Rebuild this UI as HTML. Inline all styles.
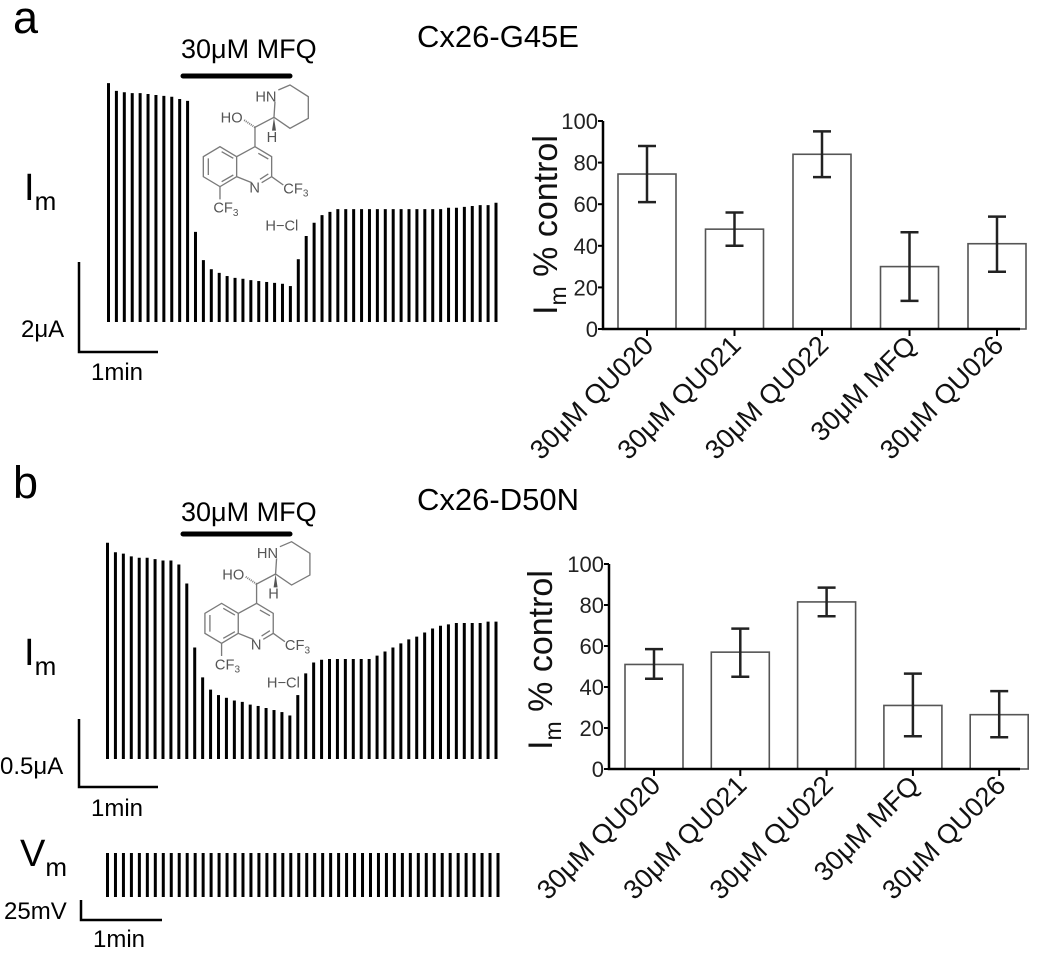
<!DOCTYPE html>
<html><head><meta charset="utf-8"><style>
html,body{margin:0;padding:0;background:#fff;}
svg{display:block;font-family:"Liberation Sans",sans-serif;}
</style></head><body>
<svg id="fig" width="1050" height="956" viewBox="0 0 1050 956" xmlns="http://www.w3.org/2000/svg">
<defs>
<g id="mol" stroke="#7a7a7a" stroke-width="4" fill="none">
 <path d="M625,150 L660,135 L715,170 L715,235 L660,265 L612,232 L615,185"/>
 <path d="M612,232 L555,262 L555,320"/>
 <path d="M555,262 L522,240" stroke-dasharray="3,3" stroke-width="6"/>
 <path d="M612,232 L606,272 L618,272 Z" fill="#555" stroke="none"/>
 <path d="M555,320 L605,350 L605,410 L575,428 M545,428 L500,410 L500,350 L555,320 M500,350 L450,320 L400,350 L400,410 L450,440 L500,410 M605,410 L640,435 M450,440 L450,478"/>
 <path d="M565,340 L595,357 M595,402 L570,418 M415,355 L415,405 M455,335 L490,355 M455,425 L490,405"/>
 <g fill="#555" stroke="none" font-size="44">
  <text x="556" y="184">HN</text>
  <text x="452" y="248">HO</text>
  <text x="590" y="306">H</text>
  <text x="538" y="458">N</text>
  <text x="640" y="460">CF<tspan font-size="30" dy="10">3</tspan></text>
  <text x="430" y="518">CF<tspan font-size="30" dy="10">3</tspan></text>
  <text x="586" y="572">H−Cl</text>
 </g>
</g>
</defs>
<g font-size="45" fill="#000">
 <text x="13" y="33">a</text>
 <text x="13" y="498">b</text>
</g>
<g font-size="31" fill="#000" text-anchor="middle">
 <text x="498" y="47">Cx26-G45E</text>
 <text x="498" y="510">Cx26-D50N</text>
</g>
<g font-size="27" fill="#000">
 <text x="181" y="58">30μM MFQ</text>
 <text x="181" y="521">30μM MFQ</text>
</g>
<line x1="183" y1="76" x2="290" y2="76" stroke="#000" stroke-width="5" stroke-linecap="round"/>
<line x1="183" y1="534" x2="290" y2="534" stroke="#000" stroke-width="5" stroke-linecap="round"/>
<use href="#mol" transform="translate(70,40) scale(0.3333)"/>
<use href="#mol" transform="translate(71.6,496.7) scale(0.3333)"/>
<g fill="#000">
 <text x="24" y="200" font-size="38">I<tspan font-size="26" dy="10">m</tspan></text>
 <text x="24" y="665" font-size="38">I<tspan font-size="26" dy="10">m</tspan></text>
 <text x="20" y="866" font-size="38">V<tspan font-size="26" dy="10">m</tspan></text>
 <text x="21" y="337" font-size="24">2μA</text>
 <text x="91" y="380" font-size="24">1min</text>
 <text x="0" y="774" font-size="24">0.5μA</text>
 <text x="91" y="816" font-size="24">1min</text>
 <text x="4" y="919" font-size="24">25mV</text>
 <text x="93" y="947" font-size="24">1min</text>
</g>
<g stroke="#000" stroke-width="2.5" fill="none">
 <path d="M79,262 L79,352 L158,352"/>
 <path d="M79,719 L79,787 L158,787"/>
 <path d="M81,900 L81,920 L162,920"/>
</g>
<g id="traces"></g>
<g id="charts"></g>
</svg>
<script>
// Trace amplitudes
const traceA = [5.25,5.08,5.05,5.03,5.03,5.01,4.99,4.97,4.95,4.90,4.86,1.98,1.36,1.16,1.08,1.01,0.97,0.95,0.92,0.90,0.88,0.86,0.84,0.79,1.38,1.89,2.18,2.35,2.42,2.48,2.48,2.48,2.48,2.48,2.48,2.48,2.48,2.48,2.48,2.48,2.48,2.48,2.48,2.51,2.51,2.53,2.55,2.57,2.57,2.62];
const traceB = [1.59,1.52,1.51,1.49,1.48,1.48,1.47,1.46,1.46,1.43,1.29,0.82,0.60,0.51,0.47,0.45,0.43,0.42,0.40,0.39,0.375,0.36,0.345,0.32,0.47,0.63,0.71,0.73,0.735,0.735,0.735,0.735,0.735,0.735,0.76,0.79,0.82,0.85,0.88,0.90,0.93,0.96,0.98,0.99,1.0,1.0,1.0,1.0,1.01,1.01];
const traceVm = Array(50).fill(55);
// Bar chart data
const categories = ["30μM QU020","30μM QU021","30μM QU022","30μM MFQ","30μM QU026"];
const meansA = [74.5,48,84,30,41];
const lowA = [61,40,73,13.5,27.5];
const highA = [88,56,95,46.5,54];
const meansB = [51,57,81.5,31,26.5];
const lowB = [44,45,74.5,16,15.5];
const highB = [58.5,68.5,88.5,46.5,38];
const yTicks = [0,20,40,60,80,100];

const NS = "http://www.w3.org/2000/svg";
function mk(tag, attrs, parent){const e=document.createElementNS(NS,tag);for(const k in attrs)e.setAttribute(k,attrs[k]);parent.appendChild(e);return e;}
const tg = document.getElementById('traces');
function drawTrace(vals, x0, x1, base, pxPerUnit, name){
  const step=(x1-x0)/(vals.length-1);
  vals.forEach((v,i)=>{
    const x=x0+i*step;
    const l=mk('line',{x1:x,x2:x,y1:base,y2:base-v*pxPerUnit,stroke:'#000','stroke-width':3},tg);
    
    
  });
}
drawTrace(traceA,108.5,496,322,45.5,'trace-a');
drawTrace(traceB,107.5,496,759,136,'trace-b');
drawTrace(traceVm,107.5,498,897,0.8,'trace-vm');

const cg = document.getElementById('charts');
function drawChart(cfg){
  const {ax,y0,y100,ticks0,tickStep,xEnd,means,low,high,tag,titleX,titleY}=cfg;
  const ys=v=>y0+(y100-y0)*v/100;
  const xs=i=>ticks0+i*tickStep;
  const g=mk('g',{},cg);
  
  
  means.forEach((m,i)=>{
    const r=mk('rect',{x:xs(i)-29,y:ys(m),width:58,height:ys(0)-ys(m),fill:'#fff',stroke:'#555','stroke-width':1.6},g);
    
    
    const e=mk('path',{d:`M${xs(i)-9},${ys(high[i])} h18 M${xs(i)},${ys(high[i])} V${ys(low[i])} M${xs(i)-9},${ys(low[i])} h18`,stroke:'#222','stroke-width':2.5,fill:'none'},g);
    
    
  });
  const axis=mk('path',{d:`M${ax},${ys(100)} V${y0} H${xEnd}`,stroke:'#000','stroke-width':2.5,fill:'none'},g);
  
  
  yTicks.forEach(t=>{
    const tk=mk('line',{x1:ax-5,x2:ax,y1:ys(t),y2:ys(t),stroke:'#000','stroke-width':2},g);
    
    
    const tl=mk('text',{x:ax-5,y:ys(t)+8,'text-anchor':'end','font-size':22,fill:'#222'},g);
    tl.textContent=t;
    
    
  });
  categories.forEach((c,i)=>{
    const tk=mk('line',{x1:xs(i),x2:xs(i),y1:y0,y2:y0+7,stroke:'#000','stroke-width':2},g);
    
    
    const tx=xs(i)+8, ty=y0+18;
    const tl=mk('text',{x:tx,y:ty,'text-anchor':'end','font-size':27,fill:'#111',transform:`rotate(-45 ${tx} ${ty})`},g);
    tl.textContent=c;
    
    
  });
  const t=mk('text',{x:titleX,y:titleY,'text-anchor':'middle','font-size':34,fill:'#111',transform:`rotate(-90 ${titleX} ${titleY})`},g);
  t.innerHTML='I<tspan font-size="23" dy="9">m</tspan><tspan dy="-9"> % control</tspan>';
  
  
}
drawChart({ax:603,y0:329,y100:121,ticks0:647,tickStep:87.5,xEnd:1020,means:meansA,low:lowA,high:highA,tag:'chart-a',titleX:557,titleY:225});
drawChart({ax:609,y0:769,y100:564,ticks0:654,tickStep:86.3,xEnd:1020,means:meansB,low:lowB,high:highB,tag:'chart-b',titleX:552,titleY:660});
</script>
</body></html>
